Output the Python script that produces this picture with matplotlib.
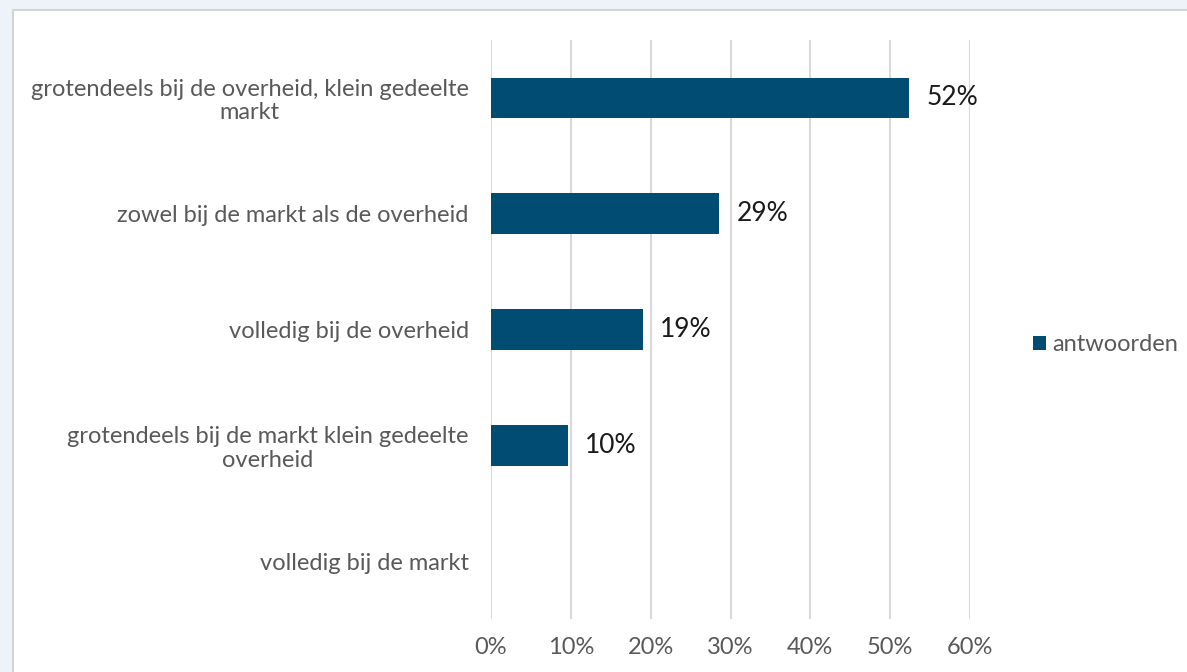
import matplotlib.pyplot as plt
from matplotlib.patches import Rectangle, Patch

plt.rcParams['font.family'] = ['Lato', 'DejaVu Sans']

categories = [
    'grotendeels bij de overheid, klein gedeelte\nmarkt',
    'zowel bij de markt als de overheid',
    'volledig bij de overheid',
    'grotendeels bij de markt klein gedeelte\noverheid',
    'volledig bij de markt',
]
values = [52.3, 28.6, 19.0, 9.6, 0.0]
value_labels = ['52%', '29%', '19%', '10%', '']
ticks = [0, 10, 20, 30, 40, 50, 60]
tick_labels = ['0%', '10%', '20%', '30%', '40%', '50%', '60%']
series_name = 'antwoorden'

bar_color = '#004C73'
grid_color = '#D9D9D9'
text_gray = '#595959'

fig = plt.figure(figsize=(11.87, 6.72), dpi=100)
fig.patch.set_facecolor('#EEF2F9')

# white chart area with thin gray frame
fig.patches.append(Rectangle((13 / 1187, -0.05), 1.1, 1 - 10 / 672 + 0.05,
                             transform=fig.transFigure, facecolor='white',
                             edgecolor='#D4D4D4', lw=1.5, zorder=-1))

ax = fig.add_axes([491 / 1187, 1 - 619 / 672, (970 - 491) / 1187, (619 - 40) / 672])
ax.set_facecolor('none')

y = list(range(len(categories)))
ax.barh(y, values, height=0.35, color=bar_color, zorder=3)
for yi, v, lab in zip(y, values, value_labels):
    if lab:
        ax.text(v + 2.2, yi, lab, va='center', ha='left', fontsize=19, color='#1a1a1a')

ax.set_xlim(0, 60)
ax.set_ylim(len(categories) - 0.5, -0.5)
ax.set_xticks(ticks)
ax.set_xticklabels(tick_labels, fontsize=17, color=text_gray)
ax.set_yticks(y)
ax.set_yticklabels(categories, fontsize=17, color=text_gray,
                   multialignment='center', linespacing=1.15)
ax.tick_params(axis='both', length=0)
ax.tick_params(axis='y', pad=16)
ax.tick_params(axis='x', pad=13)
ax.xaxis.grid(True, color=grid_color, lw=1.5, zorder=0)
for s in ax.spines.values():
    s.set_visible(False)

fig.legend(handles=[Patch(facecolor=bar_color, label=series_name)],
           loc='center left', bbox_to_anchor=(1012 / 1187, 1 - 345 / 672),
           frameon=False, fontsize=17, labelcolor=text_gray,
           handlelength=0.55, handleheight=0.55, handletextpad=0.25)

fig.savefig('out.png', dpi=100, facecolor=fig.get_facecolor())
